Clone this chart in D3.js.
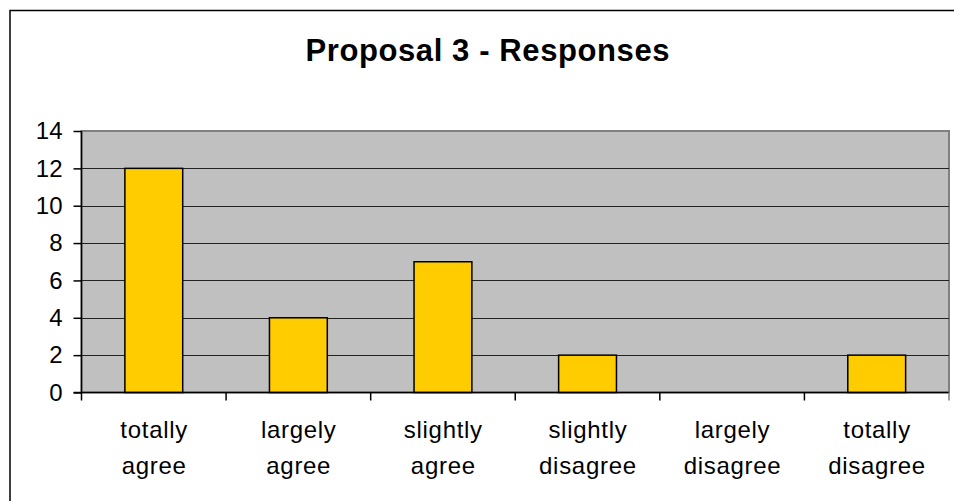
<!DOCTYPE html>
<html>
<head>
<meta charset="utf-8">
<script src="https://cdn.jsdelivr.net/npm/d3@7"></script>
<style>
  html, body { margin: 0; padding: 0; background: #fff; }
  svg { display: block; }
  text { font-family: "Liberation Sans", Arial, sans-serif; fill: #000; }
</style>
</head>
<body>
<script>
// Survey responses for proposal 3
const categories = [
  ["totally", "agree"],
  ["largely", "agree"],
  ["slightly", "agree"],
  ["slightly", "disagree"],
  ["largely", "disagree"],
  ["totally", "disagree"]
];
const responses = [12, 4, 7, 2, 0, 2];
const yTicks = [0, 2, 4, 6, 8, 10, 12, 14];
const title = "Proposal 3 - Responses";

const W = 954, H = 501;
const plot = { left: 81.5, right: 949, top: 131, bottom: 392.5 };

const svg = d3.select("body").append("svg")
  .attr("width", W).attr("height", H);

// outer chart frame
svg.append("rect")
  .attr("x", 10).attr("y", 10.5)
  .attr("width", W + 20).attr("height", H + 20)
  .attr("fill", "#fff").attr("stroke", "#000").attr("stroke-width", 1.5);

const titleSpacing = 0.6;
svg.append("text")
  .attr("x", 487.5 + titleSpacing / 2).attr("y", 61)
  .attr("text-anchor", "middle")
  .attr("font-size", 31).attr("font-weight", "bold")
  .attr("letter-spacing", titleSpacing)
  .text(title);

const keys = d3.range(categories.length);
const x = d3.scaleBand().domain(keys).range([plot.left, plot.right]).paddingInner(0).paddingOuter(0);
const y = d3.scaleLinear().domain([0, 14]).range([plot.bottom, plot.top]);

// plot area background
svg.append("rect")
  .attr("x", plot.left).attr("y", plot.top)
  .attr("width", plot.right - plot.left).attr("height", plot.bottom - plot.top)
  .attr("fill", "#C0C0C0").attr("stroke", "#808080").attr("stroke-width", 2);

// horizontal gridlines
svg.append("g").selectAll("line")
  .data(yTicks.filter(d => d > 0 && d < 14))
  .join("line")
  .attr("x1", plot.left).attr("x2", plot.right)
  .attr("y1", d => Math.round(y(d)) + 0.5).attr("y2", d => Math.round(y(d)) + 0.5)
  .attr("stroke", "#222").attr("stroke-width", 1);

// bars
const barW = x.bandwidth() * 0.4;
svg.append("g").selectAll("rect")
  .data(responses.map((v, i) => ({ v, i })).filter(d => d.v > 0))
  .join("rect")
  .attr("x", d => x(d.i) + (x.bandwidth() - barW) / 2)
  .attr("y", d => y(d.v))
  .attr("width", barW)
  .attr("height", d => y(0) - y(d.v))
  .attr("fill", "#FFCC00").attr("stroke", "#000").attr("stroke-width", 1.5);

// y axis
const yAxis = d3.axisLeft(y).tickValues(yTicks).tickSize(8).tickPadding(11);
const gy = svg.append("g").attr("transform", `translate(${plot.left},0)`).call(yAxis);
gy.select(".domain").attr("d", `M0,${plot.top}V${plot.bottom + 8}`).attr("stroke", "#000").attr("stroke-width", 1.5);
gy.selectAll(".tick line").attr("stroke", "#000").attr("stroke-width", 1.5);
gy.selectAll(".tick text").attr("font-size", 24)
  .attr("font-family", "'Liberation Sans', Arial, sans-serif").attr("fill", "#000");

// x axis with boundary ticks between categories
const gx = svg.append("g");
gx.append("line")
  .attr("x1", plot.left - 8).attr("x2", plot.right)
  .attr("y1", plot.bottom).attr("y2", plot.bottom)
  .attr("stroke", "#000").attr("stroke-width", 1.5);
gx.selectAll("line.tick")
  .data(keys.slice(1).concat([categories.length]))
  .join("line").attr("class", "tick")
  .attr("x1", d => d < categories.length ? x(d) : plot.right)
  .attr("x2", d => d < categories.length ? x(d) : plot.right)
  .attr("y1", plot.bottom).attr("y2", plot.bottom + 8)
  .attr("stroke", d => d < categories.length ? "#000" : "#808080").attr("stroke-width", 1.5);

const catSpacing = 0.7;
const labels = gx.selectAll("text.cat")
  .data(categories)
  .join("text").attr("class", "cat")
  .attr("text-anchor", "middle")
  .attr("font-size", 24)
  .attr("letter-spacing", catSpacing)
  .attr("transform", (d, i) => `translate(${x(i) + x.bandwidth() / 2 + catSpacing / 2},0)`);
labels.selectAll("tspan")
  .data(d => d)
  .join("tspan")
  .attr("x", 0)
  .attr("y", (d, j) => 438 + j * 36)
  .text(d => d);
</script>
</body>
</html>
